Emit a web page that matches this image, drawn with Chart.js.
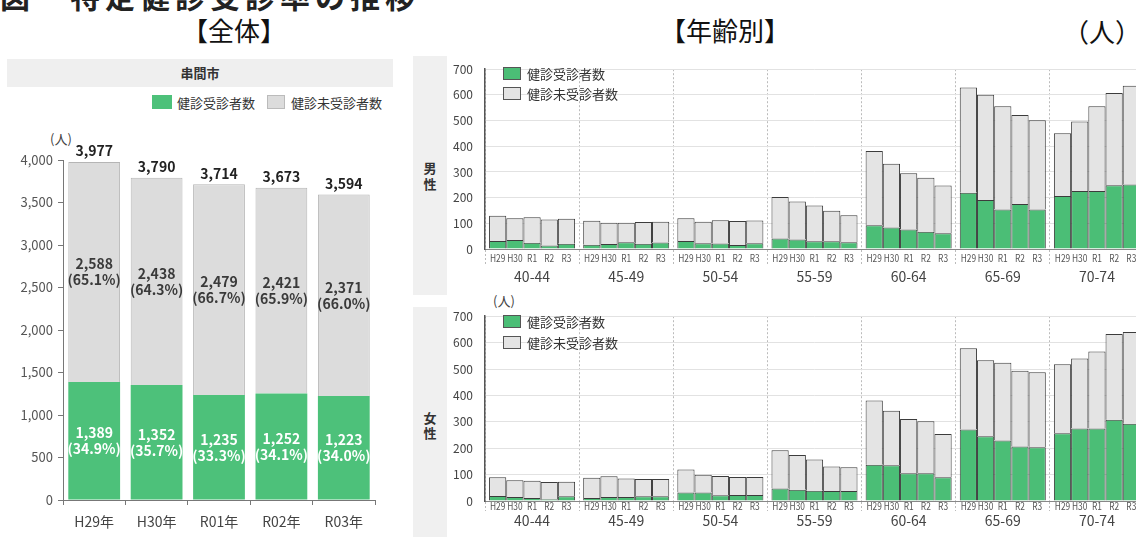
<!DOCTYPE html>
<html lang="ja">
<head>
<meta charset="utf-8">
<title>特定健診受診者数の推移</title>
<script src="https://cdn.jsdelivr.net/npm/chart.js@4.4.1/dist/chart.umd.min.js"></script>
<style>
  html, body { margin: 0; padding: 0; background: #fff; overflow: hidden; }
  body { width: 1136px; height: 537px; position: relative; font-family: "Noto Sans CJK JP", sans-serif; color: #222; }
  .abs { position: absolute; white-space: nowrap; }
  #title { left: 0; top: -22px; font-size: 30px; font-weight: bold; line-height: 34px; letter-spacing: 5px; }
  .heading { font-size: 26px; line-height: 26px; color: #111; }
  .side { background: #f0f0f0; width: 34px; }
  .side span { position: absolute; left: 0; width: 34px; text-align: center; font-weight: bold; font-size: 13px; color: #333; }
  .legend { font-size: 13px; color: #333; line-height: 14px; }
  .box { position: absolute; border: 1px solid #555; box-sizing: border-box; }
  canvas { position: absolute; }
</style>
</head>
<body>
<div id="title" class="abs">図　特定健診受診率の推移</div>
<div class="abs heading" style="left:182px; top:17px;">【全体】</div>
<div class="abs heading" style="left:660px; top:17px;">【年齢別】</div>
<div class="abs heading" style="left:1063px; top:18px;">（人）</div>

<div class="abs" style="left:7px; top:59px; width:386px; height:28px; background:#efefef; text-align:center; line-height:28px; font-size:13px; font-weight:bold; color:#333;">串間市</div>
<div class="box" style="left:152px; top:95px; width:20px; height:14px; border:none;" id="lgA"></div>
<div class="abs legend" style="left:177px; top:96px;">健診受診者数</div>
<div class="box" style="left:267px; top:95px; width:18px; height:14px; border-color:#bbb;" id="lgB"></div>
<div class="abs legend" style="left:291px; top:96px;">健診未受診者数</div>
<div class="abs" style="left:50px; top:129px; font-size:13px; color:#444;">(人)</div>

<div class="abs side" style="left:413px; top:56px; height:239px;"><span style="top:104px; line-height:16px;">男<br>性</span></div>
<div class="abs side" style="left:413px; top:307px; height:230px;"><span style="top:103px; line-height:15px;">女<br>性</span></div>
<div class="abs" style="left:493px; top:291px; font-size:13px; color:#444;">(人)</div>

<canvas id="totalChart" width="400" height="417" style="left:0; top:120px;"></canvas>
<canvas id="maleChart" width="710" height="245" style="left:440px; top:50px;"></canvas>
<canvas id="femaleChart" width="710" height="240" style="left:440px; top:297px;"></canvas>

<div class="box" style="left:503px; top:67px; width:18px; height:13px;" id="lgM1"></div>
<div class="abs legend" style="left:527px; top:67px;">健診受診者数</div>
<div class="box" style="left:503px; top:87px; width:18px; height:13px;" id="lgM2"></div>
<div class="abs legend" style="left:527px; top:87px;">健診未受診者数</div>
<div class="box" style="left:503px; top:315px; width:18px; height:13px;" id="lgF1"></div>
<div class="abs legend" style="left:527px; top:315px;">健診受診者数</div>
<div class="box" style="left:503px; top:336px; width:18px; height:13px;" id="lgF2"></div>
<div class="abs legend" style="left:527px; top:336px;">健診未受診者数</div>

<script>
// 全体（串間市）
const allYears = ['H29年', 'H30年', 'R01年', 'R02年', 'R03年'];
const totalExamined = [1389, 1352, 1235, 1252, 1223];
const totalNotExamined = [2588, 2438, 2479, 2421, 2371];

// 年齢別: 行 = 年齢階級, 列 = 年度
const ageGroups = ['40-44', '45-49', '50-54', '55-59', '60-64', '65-69', '70-74'];
const years = ['H29', 'H30', 'R1', 'R2', 'R3'];
const maleExamined = [
  [31, 35, 24, 14, 20],
  [17, 19, 26, 20, 25],
  [31, 22, 21, 16, 22],
  [41, 37, 30, 30, 26],
  [92, 84, 76, 67, 61],
  [219, 191, 154, 175, 154],
  [206, 226, 226, 248, 251]
];
const maleNotExamined = [
  [98, 85, 100, 101, 98],
  [93, 83, 76, 85, 81],
  [89, 84, 91, 93, 89],
  [161, 148, 139, 119, 105],
  [290, 248, 219, 210, 186],
  [410, 410, 402, 347, 347],
  [245, 270, 330, 359, 385]
];
const femaleExamined = [
  [19, 15, 11, 7, 18],
  [11, 15, 15, 18, 18],
  [32, 32, 22, 23, 23],
  [47, 43, 39, 38, 38],
  [137, 135, 105, 105, 90],
  [271, 245, 229, 206, 204],
  [257, 275, 275, 308, 293]
];
const femaleNotExamined = [
  [71, 64, 66, 65, 55],
  [77, 79, 70, 65, 65],
  [87, 67, 73, 68, 68],
  [145, 131, 118, 93, 90],
  [244, 207, 206, 197, 164],
  [308, 288, 295, 287, 284],
  [261, 265, 291, 325, 347]
];

const GREEN = '#4dc17a';
const GREEN_AGE = '#4bbe76';
const GRAY = '#dcdcdc';
const GRAY_AGE = '#e4e4e4';
const FONT = '"Noto Sans CJK JP", sans-serif';

Chart.defaults.font.family = FONT;
Chart.defaults.color = '#444';

document.getElementById('lgA').style.background = GREEN;
document.getElementById('lgB').style.background = GRAY;
['lgM1', 'lgF1'].forEach(id => document.getElementById(id).style.background = GREEN_AGE);
['lgM2', 'lgF2'].forEach(id => document.getElementById(id).style.background = GRAY_AGE);

const fmt = v => v.toLocaleString('en-US');

// 棒の中に人数と割合、上に合計
const valueLabels = {
  id: 'valueLabels',
  afterDatasetsDraw(chart) {
    const ctx = chart.ctx;
    const exMeta = chart.getDatasetMeta(0);
    const noMeta = chart.getDatasetMeta(1);
    ctx.save();
    ctx.textAlign = 'center';
    ctx.textBaseline = 'middle';
    allYears.forEach((_, i) => {
      const total = totalExamined[i] + totalNotExamined[i];
      const pct = v => '(' + (v / total * 100).toFixed(1) + '%)';
      const g = exMeta.data[i];
      const n = noMeta.data[i];
      ctx.font = 'bold 14px ' + FONT;

      let cy = (g.y + g.base) / 2;
      ctx.fillStyle = '#fff';
      ctx.fillText(fmt(totalExamined[i]), g.x, cy - 8);
      ctx.fillText(pct(totalExamined[i]), g.x, cy + 8);

      cy = (n.y + n.base) / 2;
      ctx.fillStyle = '#3a3a3a';
      ctx.fillText(fmt(totalNotExamined[i]), n.x, cy - 8);
      ctx.fillText(pct(totalNotExamined[i]), n.x, cy + 8);

      ctx.fillStyle = '#222';
      ctx.fillText(fmt(total), n.x, n.y - 11);
    });
    ctx.restore();
  }
};

new Chart(document.getElementById('totalChart'), {
  type: 'bar',
  data: {
    labels: allYears,
    datasets: [
      { label: '健診受診者数', data: totalExamined, backgroundColor: GREEN, borderWidth: 0 },
      { label: '健診未受診者数', data: totalNotExamined, backgroundColor: GRAY, borderColor: '#b5b5b5', borderWidth: 1 }
    ]
  },
  options: {
    responsive: false,
    animation: false,
    devicePixelRatio: 1,
    layout: { padding: { top: 40, right: 25, left: 0, bottom: 0 } },
    categoryPercentage: 1,
    barPercentage: 0.83,
    plugins: { legend: { display: false }, tooltip: { enabled: false } },
    scales: {
      x: {
        stacked: true,
        grid: { drawOnChartArea: false, tickLength: 5, color: '#777', offset: true },
        border: { color: '#777' },
        ticks: { font: { size: 14 }, color: '#444', padding: 8 },
        afterFit(scale) { scale.height = 37; }
      },
      y: {
        stacked: true,
        min: 0,
        max: 4000,
        grid: { drawOnChartArea: false, tickLength: 5, color: '#777' },
        border: { color: '#777' },
        ticks: { stepSize: 500, font: { size: 13 }, color: '#555', padding: 5, callback: v => fmt(v) },
        afterFit(scale) { scale.width = 63; }
      }
    }
  },
  plugins: [valueLabels]
});

// 各棒の下に年度ラベル（幅の狭い字形に見せるため横に縮める）
function yearLabels(offset) {
  return {
    id: 'yearLabels',
    afterDatasetsDraw(chart) {
      const ctx = chart.ctx;
      ctx.save();
      ctx.font = '10.5px ' + FONT;
      ctx.fillStyle = '#555';
      ctx.textAlign = 'center';
      ctx.textBaseline = 'middle';
      years.forEach((year, j) => {
        chart.getDatasetMeta(j * 2).data.forEach(bar => {
          ctx.save();
          ctx.translate(bar.x, chart.chartArea.bottom + offset);
          ctx.scale(0.8, 1);
          ctx.fillText(year, 0, 0);
          ctx.restore();
        });
      });
      ctx.restore();
    }
  };
}

function ageChart(id, examined, notExamined, opt) {
  const datasets = [];
  years.forEach((year, j) => {
    datasets.push({
      label: '健診受診者数', stack: year,
      data: examined.map(row => row[j]),
      backgroundColor: GREEN_AGE, borderColor: '#3c3c3c', borderWidth: 1
    });
    datasets.push({
      label: '健診未受診者数', stack: year,
      data: notExamined.map(row => row[j]),
      backgroundColor: GRAY_AGE, borderColor: '#3c3c3c', borderWidth: 1
    });
  });
  return new Chart(document.getElementById(id), {
    type: 'bar',
    data: { labels: ageGroups, datasets },
    options: {
      responsive: false,
      animation: false,
      devicePixelRatio: 1,
      layout: { padding: { top: 11, right: 6, left: 0, bottom: 0 } },
      categoryPercentage: 0.914,
      barPercentage: 1,
      plugins: { legend: { display: false }, tooltip: { enabled: false } },
      scales: {
        x: {
          stacked: true,
          grid: { color: '#bbb', offset: true, tickLength: opt.tick, tickColor: '#bbb', tickBorderDash: [2, 2] },
          border: { color: '#888', dash: [2, 2] },
          ticks: { font: { size: 14 }, color: '#444', padding: opt.pad },
          afterFit(scale) { scale.height = opt.axisHeight; }
        },
        y: {
          stacked: true,
          min: 0,
          max: 700,
          grid: { color: '#e2e2e2', drawTicks: false },
          border: { color: '#555', width: 1.5 },
          ticks: { stepSize: 100, font: { size: 12 }, color: '#444', padding: 12 },
          afterFit(scale) { scale.width = 45; }
        }
      }
    },
    plugins: [yearLabels(opt.yearOffset)]
  });
}

ageChart('maleChart', maleExamined, maleNotExamined, { tick: 16, pad: 3, axisHeight: 46, yearOffset: 9 });
ageChart('femaleChart', femaleExamined, femaleNotExamined, { tick: 10, pad: 1, axisHeight: 36, yearOffset: 5 });
</script>
</body>
</html>
